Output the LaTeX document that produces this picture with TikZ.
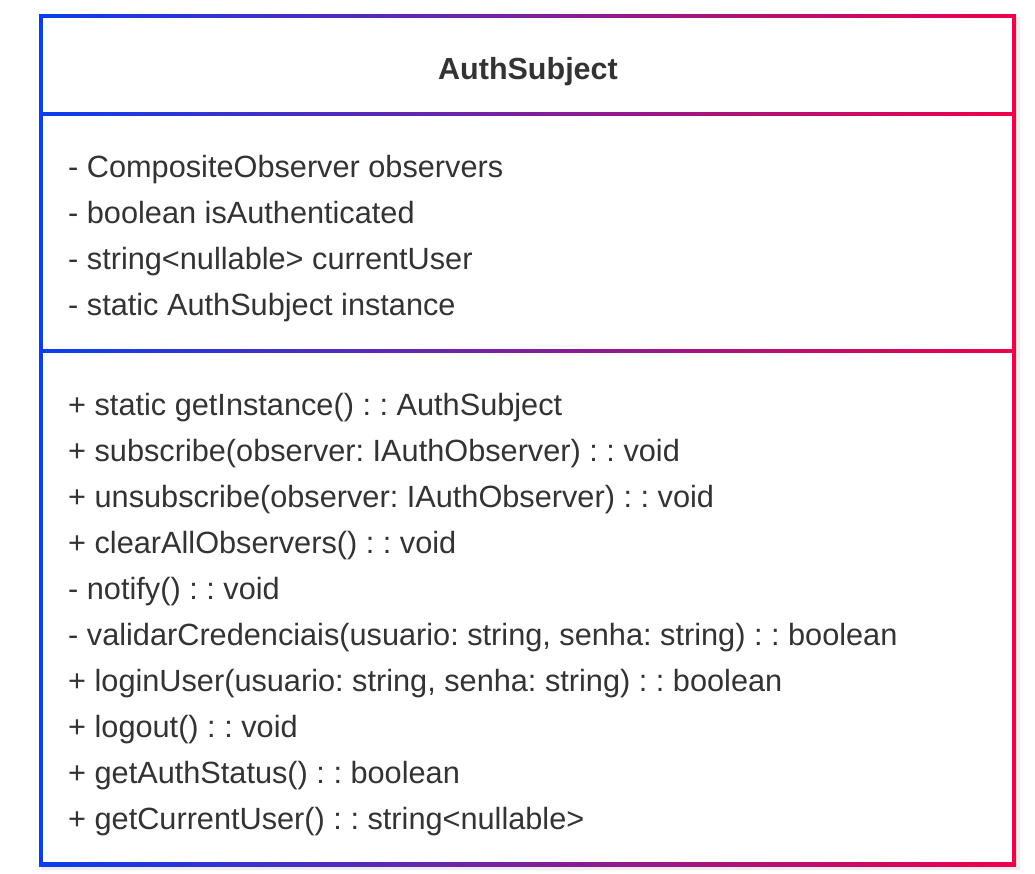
\documentclass[tikz,border=0pt]{standalone}
\usepackage{fontspec}
\setmainfont{Liberation Sans}
\usetikzlibrary{positioning}
\definecolor{umlblue}{RGB}{10,62,240}
\definecolor{umlred}{RGB}{240,0,74}
\definecolor{umltext}{RGB}{51,51,51}
\tikzset{
    member/.style={anchor=base west, inner sep=0pt, text=umltext, font=\fontsize{30.7}{35}\selectfont},
    classname/.style={anchor=base, inner sep=0pt, text=umltext, font=\fontsize{30.5}{35}\selectfont\bfseries}
}
\frenchspacing

\begin{document}
\begin{tikzpicture}[x=1pt,y=-1pt]
\useasboundingbox (0,0) rectangle (1035,873);
% shadow and gradient frame
\fill[black!7] (41,17) rectangle (1020,870);
\shade[left color=umlblue, right color=umlred] (39,14) rectangle (1016,866);
\fill[white] (43,18) rectangle (1012,112);
\fill[white] (43,116) rectangle (1012,349);
\fill[white] (43,353) rectangle (1012,862);

\node[classname] (title) at (528,79) {AuthSubject};

\foreach \i/\t in {1/{- CompositeObserver observers},
                   2/{- boolean isAuthenticated},
                   3/{- string<nullable> currentUser},
                   4/{- static AuthSubject instance}}
{
    \node[member] (attr\i) at (68,131+46*\i) {\t};
}

\foreach \i/\t in {1/{+ static getInstance() : : AuthSubject},
                   2/{+ subscribe(observer: IAuthObserver) : : void},
                   3/{+ unsubscribe(observer: IAuthObserver) : : void},
                   4/{+ clearAllObservers() : : void},
                   5/{- notify() : : void},
                   6/{- validarCredenciais(usuario: string, senha: string) : : boolean},
                   7/{+ loginUser(usuario: string, senha: string) : : boolean},
                   8/{+ logout() : : void},
                   9/{+ getAuthStatus() : : boolean},
                   10/{+ getCurrentUser() : : string<nullable>}}
{
    \node[member] (meth\i) at (68,369+46*\i) {\t};
}
\end{tikzpicture}
\end{document}
